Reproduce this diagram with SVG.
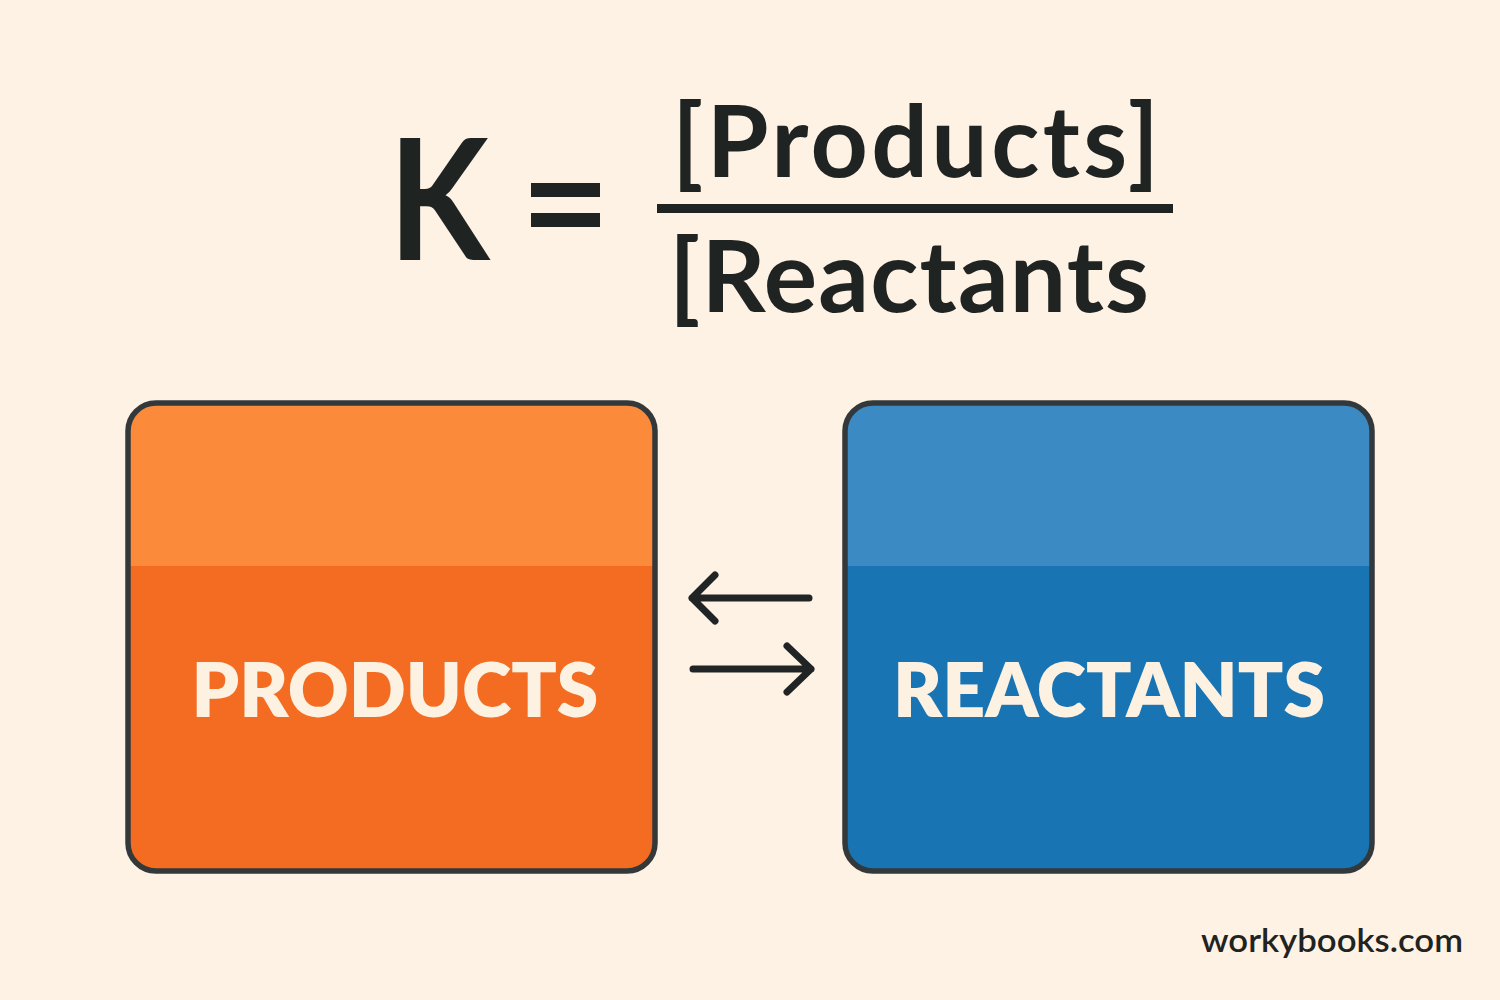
<svg xmlns="http://www.w3.org/2000/svg" width="1500" height="1000" viewBox="0 0 1500 1000">
<style>
.f{font-family:"Lato","Open Sans","Noto Sans",sans-serif}
.eq{font-weight:700;fill:#1f2322}
.lab{font-weight:800;fill:#fdf1e2;font-size:75px;text-anchor:middle}
.box{fill:none;stroke:#33393b;stroke-width:5.5}
.a{fill:none;stroke:#212425;stroke-width:7;stroke-linecap:round;stroke-linejoin:round}
</style>
<defs>
<clipPath id="c1"><rect x="128" y="403" width="527" height="468" rx="28"/></clipPath>
<clipPath id="c2"><rect x="845" y="403" width="527" height="468" rx="28"/></clipPath>
</defs>
<rect width="1500" height="1000" fill="#fef2e4"/>
<g id="formula">
<text class="f eq" transform="translate(388.4 260) scale(.875 1)" font-size="168">K</text>
<rect x="531" y="183" width="69" height="14" fill="#1f2322"/>
<rect x="531" y="213" width="69" height="14" fill="#1f2322"/>
<text class="f eq" x="672" y="177" font-size="100" textLength="487" lengthAdjust="spacing">[Products]</text>
<rect x="657" y="204" width="516" height="9" fill="#1f2322"/>
<text class="f eq" x="669" y="312" font-size="100" textLength="480" lengthAdjust="spacing">[Reactants</text>
</g>
<g id="products">
<g clip-path="url(#c1)"><rect x="128" y="403" width="527" height="163" fill="#fc8a3b"/><rect x="128" y="566" width="527" height="305" fill="#f36c22"/></g>
<rect class="box" x="128" y="403" width="527" height="468" rx="28"/>
<text class="f lab" x="395" y="717">PRODUCTS</text>
</g>
<g id="reactants">
<g clip-path="url(#c2)"><rect x="845" y="403" width="527" height="163" fill="#3c8ac4"/><rect x="845" y="566" width="527" height="305" fill="#1874b3"/></g>
<rect class="box" x="845" y="403" width="527" height="468" rx="28"/>
<text class="f lab" x="1109" y="717">REACTANTS</text>
</g>
<g id="connectors">
<path class="a" d="M809 598H692M715 575L692 598L715 621"/>
<path class="a" d="M693 669H811M787 646L811 669L787 692"/>
</g>
<g id="credit"><text class="f" x="1201" y="952" font-size="32" font-weight="600" fill="#1f2322" textLength="262" lengthAdjust="spacingAndGlyphs">workybooks.com</text></g>
</svg>
